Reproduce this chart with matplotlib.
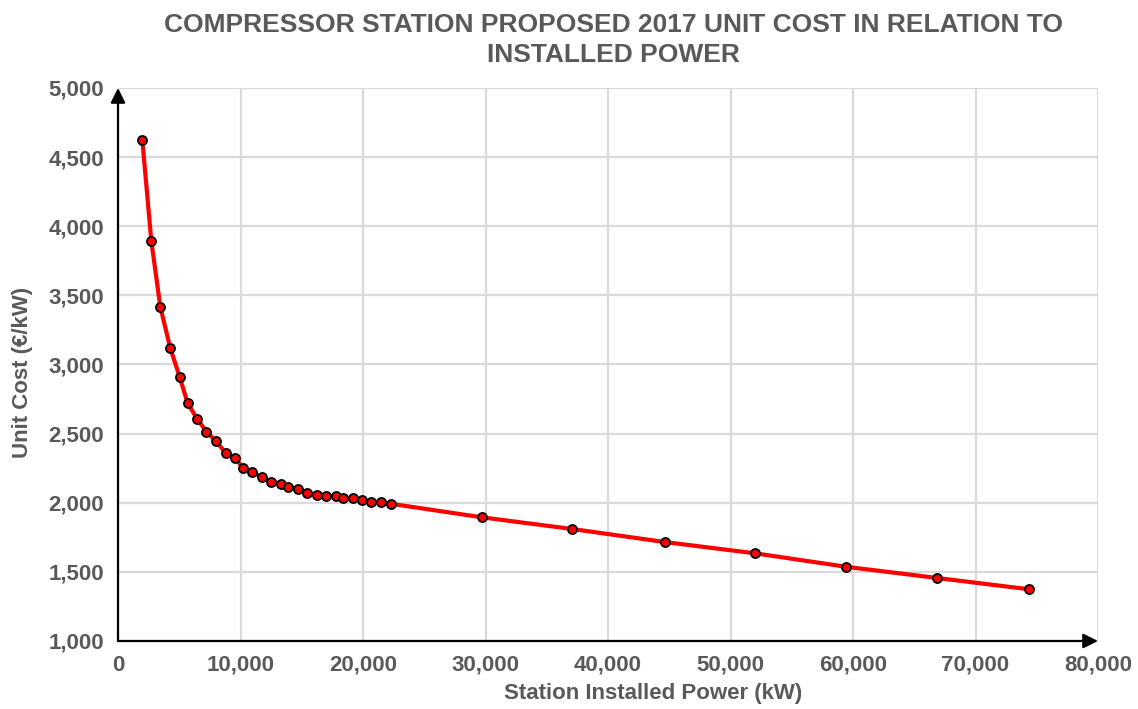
import matplotlib
matplotlib.use("Agg")
from matplotlib import pyplot as plt
from matplotlib.ticker import FuncFormatter

# station installed power (kW) and unit cost (EUR/kW)
power_kw = [1984, 2720, 3456, 4274, 5035, 5689, 6458, 7219, 8012, 8798,
            9566, 10188, 10957, 11742, 12511, 13272, 13902, 14663, 15456,
            16217, 17010, 17771, 18401, 19162, 19922, 20691, 21476, 22245,
            29680, 37080, 44620, 52030, 59430, 66840, 74380]
unit_cost = [4624, 3893, 3416, 3117, 2910, 2719, 2608, 2514, 2444, 2360,
             2322, 2254, 2222, 2184, 2152, 2138, 2114, 2097, 2073,
             2058, 2047, 2047, 2032, 2032, 2018, 2005, 2005, 1993,
             1895, 1810, 1716, 1634, 1537, 1456, 1374]

x_ticks = [0, 10000, 20000, 30000, 40000, 50000, 60000, 70000, 80000]
y_ticks = [1000, 1500, 2000, 2500, 3000, 3500, 4000, 4500, 5000]

title = "COMPRESSOR STATION PROPOSED 2017 UNIT COST IN RELATION TO\nINSTALLED POWER"
x_label = "Station Installed Power (kW)"
y_label = "Unit Cost (€/kW)"

grey = "#595959"
plt.rcParams['font.family'] = ['Liberation Sans', 'DejaVu Sans']

fig = plt.figure(figsize=(11.38, 7.09), dpi=100)
ax = fig.add_axes([118 / 1138, 1 - 641 / 709, 980 / 1138, 553 / 709])

ax.set_xlim(0, 80000)
ax.set_ylim(1000, 5000)
ax.set_xticks(x_ticks)
ax.set_yticks(y_ticks)
fmt = FuncFormatter(lambda v, p: "{:,.0f}".format(v))
ax.xaxis.set_major_formatter(fmt)
ax.yaxis.set_major_formatter(fmt)
ax.tick_params(length=0, labelsize=16, labelcolor=grey, pad=10)
for lab in ax.get_xticklabels() + ax.get_yticklabels():
    lab.set_fontweight("bold")

ax.grid(True, color="#dadada", linewidth=1.6)
ax.set_axisbelow(True)
for s in ax.spines.values():
    s.set_visible(False)

# line and points
ax.plot(power_kw, unit_cost, color="#ff0000", linewidth=3, zorder=3,
        solid_capstyle="round")
ax.plot(power_kw, unit_cost, linestyle="none", marker="o", markersize=6.5,
        markerfacecolor="#ff0000", markeredgecolor="black",
        markeredgewidth=1.3, zorder=4, clip_on=False)

# arrow axes
arrow = dict(arrowstyle="-|>", color="black", lw=1.6, mutation_scale=22,
             shrinkA=0, shrinkB=0)
ax.annotate("", xy=(1, 0), xytext=(0, 0), xycoords="axes fraction",
            arrowprops=arrow, zorder=5)
ax.annotate("", xy=(0, 1), xytext=(0, 0), xycoords="axes fraction",
            arrowprops=arrow, zorder=5)

fig.text(613 / 1138, 1 - 40 / 709, title, ha="center", va="center",
         fontsize=19, fontweight="bold", color=grey, linespacing=1.3)
fig.text(653 / 1138, 1 - 694 / 709, x_label, ha="center", va="center",
         fontsize=16, fontweight="bold", color=grey)
fig.text(23 / 1138, 1 - 372 / 709, y_label, ha="center", va="center",
         rotation=90, fontsize=16, fontweight="bold", color=grey)

plt.savefig("out.png", dpi=100)
